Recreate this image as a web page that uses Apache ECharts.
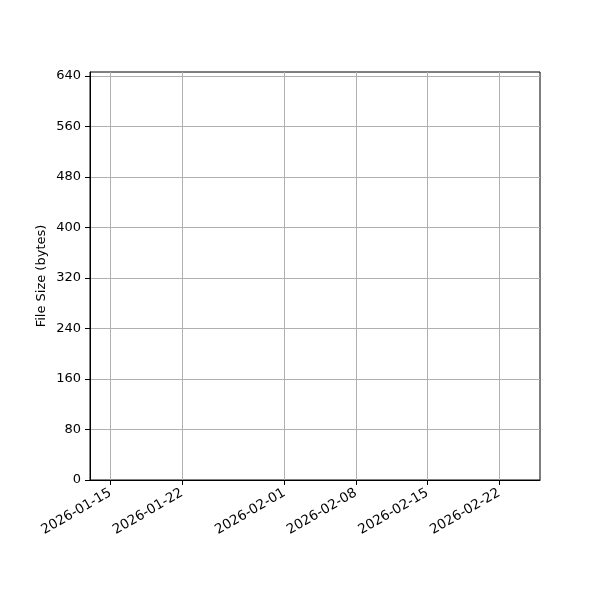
<!DOCTYPE html>
<html>
<head>
<meta charset="utf-8">
<script src="https://cdn.jsdelivr.net/npm/echarts@6/dist/echarts.min.js"></script>
<style>html,body{margin:0;padding:0;background:#fff}#c{width:600px;height:600px}</style>
</head>
<body>
<div id="c"></div>
<script>
// Data (the reference plot contains no data points)
const dates = [];
const fileSizes = [];
const xTickLabels = ['2026-01-15', '2026-01-22', '2026-02-01', '2026-02-08', '2026-02-15', '2026-02-22'];
const yTickValues = [0, 80, 160, 240, 320, 400, 480, 560, 640];
const xRange = ['2026-01-13', '2026-02-26'];
const yMax = 646;

function ts(s) { return new Date(s + 'T00:00:00').getTime(); }
function pad(n) { return (n < 10 ? '0' : '') + n; }
function fmt(v) { const d = new Date(v); return d.getFullYear() + '-' + pad(d.getMonth() + 1) + '-' + pad(d.getDate()); }
const xTicks = xTickLabels.map(ts);

const chart = echarts.init(document.getElementById('c'), null, {renderer: 'canvas'});
const font = 'DejaVu Sans';
chart.setOption({
  animation: false,
  backgroundColor: '#fff',
  grid: {left: 90, right: 60, top: 72, bottom: 120, show: true, borderColor: '#000', borderWidth: 1, backgroundColor: 'transparent'},
  xAxis: {
    type: 'value',
    min: ts(xRange[0]),
    max: ts(xRange[1]),
    axisLine: {show: true, onZero: false, lineStyle: {color: '#000', width: 1}},
    axisTick: {show: true, customValues: xTicks, length: 5, lineStyle: {color: '#000'}},
    axisLabel: {
      customValues: xTicks, rotate: 30, margin: 12, color: '#000', fontFamily: font, fontSize: 13.5,
      formatter: function (v) { return fmt(v); }
    },
    splitLine: {show: true, lineStyle: {color: '#b0b0b0', width: 1}}
  },
  yAxis: {
    type: 'value',
    min: 0,
    max: yMax,
    name: 'File Size (bytes)',
    nameLocation: 'middle',
    nameGap: 42,
    nameMoveOverlap: false,
    nameTextStyle: {color: '#000', fontFamily: font, fontSize: 13},
    axisLine: {show: true, lineStyle: {color: '#000', width: 1}},
    axisTick: {show: true, customValues: yTickValues, length: 5, lineStyle: {color: '#000'}},
    axisLabel: {customValues: yTickValues, margin: 9, color: '#000', fontFamily: font, fontSize: 13},
    splitLine: {show: true, lineStyle: {color: '#b0b0b0', width: 1}}
  },
  series: [{
    type: 'line',
    data: dates.map((d, i) => [ts(d), fileSizes[i]]),
    itemStyle: {color: '#1f77b4'}
  }]
});
</script>
</body>
</html>
